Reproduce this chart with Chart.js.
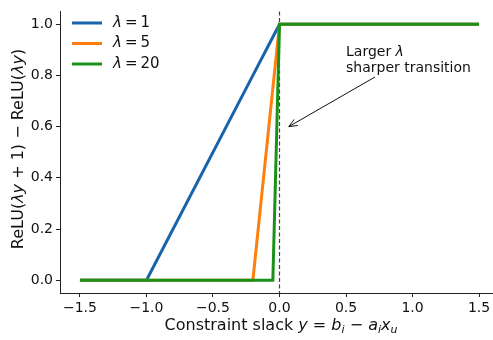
<!DOCTYPE html>
<html>
<head>
<meta charset="utf-8">
<script src="https://cdn.jsdelivr.net/npm/chart.js@4.4.0/dist/chart.umd.min.js"></script>
<style>
    html, body { margin: 0; padding: 0; background: #fff; overflow: hidden; }
    #wrap { width: 510px; height: 340px; }
</style>
</head>
<body>
<div id="wrap"><canvas id="chart" width="510" height="340"></canvas></div>
<script>
// Data
const slack = [-1.5, -1.0, -0.2, -0.05, 0.0, 1.5];
const lambdaOne = [0, 0, 0.8, 0.95, 1, 1];
const lambdaFive = [0, 0, 0, 0.75, 1, 1];
const lambdaTwenty = [0, 0, 0, 0, 1, 1];
const seriesLabels = ['\u03bb = 1', '\u03bb = 5', '\u03bb = 20'];
const xTicks = [-1.5, -1.0, -0.5, 0.0, 0.5, 1.0, 1.5];
const yTicks = [0.0, 0.2, 0.4, 0.6, 0.8, 1.0];

const colors = ['#1764ab', '#ff7f0e', '#1a921a'];
const FONT = '"DejaVu Sans", sans-serif';

const toPoints = (ys) => slack.map((x, i) => ({ x: x, y: ys[i] }));
const fmt = (v) => v.toFixed(1).replace('-', '\u2212');

// Dashed vertical line at y = 0, annotation, legend, axis labels
const extras = {
    id: 'extras',
    beforeDatasetsDraw(chart) {
        const { ctx, chartArea, scales } = chart;
        const x0 = scales.x.getPixelForValue(0);
        ctx.save();
        ctx.strokeStyle = '#444';
        ctx.lineWidth = 1.2;
        ctx.setLineDash([4, 2.5]);
        ctx.beginPath();
        ctx.moveTo(x0, chartArea.top);
        ctx.lineTo(x0, chartArea.bottom);
        ctx.stroke();
        ctx.restore();
    },
    afterDraw(chart) {
        const { ctx, scales } = chart;
        const xs = scales.x, ys = scales.y;
        ctx.save();

        // legend
        ctx.textBaseline = 'middle';
        seriesLabels.forEach((lab, i) => {
            const y = 23 + i * 20.5;
            ctx.strokeStyle = colors[i];
            ctx.lineWidth = 3;
            ctx.beginPath();
            ctx.moveTo(72, y);
            ctx.lineTo(102, y);
            ctx.stroke();
            ctx.fillStyle = '#111';
            ctx.font = 'italic 15px ' + FONT;
            ctx.fillText('\u03bb', 113, y);
            ctx.font = '15px ' + FONT;
            ctx.fillText(lab.slice(1).replace(/ /g, '\u2009'), 122, y);
        });

        // annotation
        ctx.fillStyle = '#111';
        ctx.textBaseline = 'alphabetic';
        ctx.font = '14px ' + FONT;
        ctx.fillText('Larger ', 346, 56);
        const w = ctx.measureText('Larger ').width;
        ctx.font = 'italic 14px ' + FONT;
        ctx.fillText('\u03bb', 346 + w, 56);
        ctx.font = '14px ' + FONT;
        ctx.fillText('sharper transition', 346, 72);

        const ax = 375, ay = 77;
        const bx = xs.getPixelForValue(0.07), by = ys.getPixelForValue(0.6);
        ctx.strokeStyle = '#111';
        ctx.lineWidth = 1;
        ctx.beginPath();
        ctx.moveTo(ax, ay);
        ctx.lineTo(bx, by);
        const ang = Math.atan2(by - ay, bx - ax);
        ctx.moveTo(bx - 9 * Math.cos(ang - 0.4), by - 9 * Math.sin(ang - 0.4));
        ctx.lineTo(bx, by);
        ctx.lineTo(bx - 9 * Math.cos(ang + 0.4), by - 9 * Math.sin(ang + 0.4));
        ctx.stroke();

        // x axis label with italic math
        const parts = [
            ['Constraint slack ', ''], ['y', 'italic '], [' = ', ''], ['b', 'italic '],
            ['i', 'italic ', 1], [' \u2212 ', ''], ['a', 'italic '], ['i', 'italic ', 1],
            ['x', 'italic '], ['u', 'italic ', 1]
        ];
        const size = (p) => (p[2] ? '11px ' : '16px ');
        let total = 0;
        parts.forEach(p => { ctx.font = p[1] + size(p) + FONT; total += ctx.measureText(p[0]).width; });
        let cx = 281 - total / 2;
        parts.forEach(p => {
            ctx.font = p[1] + size(p) + FONT;
            ctx.fillText(p[0], cx, p[2] ? 333 : 330);
            cx += ctx.measureText(p[0]).width;
        });

        // y axis label
        ctx.translate(23, 149);
        ctx.rotate(-Math.PI / 2);
        const yparts = [
            ['ReLU(', ''], ['\u03bby', 'italic '], [' + 1) \u2212 ReLU(', ''], ['\u03bby', 'italic '], [')', '']
        ];
        total = 0;
        yparts.forEach(p => { ctx.font = p[1] + '16px ' + FONT; total += ctx.measureText(p[0]).width; });
        cx = -total / 2;
        yparts.forEach(p => {
            ctx.font = p[1] + '16px ' + FONT;
            ctx.fillText(p[0], cx, 0);
            cx += ctx.measureText(p[0]).width;
        });
        ctx.restore();
    }
};

const ctx = document.getElementById('chart').getContext('2d');
new Chart(ctx, {
    type: 'line',
    data: {
        datasets: [
            { label: seriesLabels[0], data: toPoints(lambdaOne), borderColor: colors[0], order: 3 },
            { label: seriesLabels[1], data: toPoints(lambdaFive), borderColor: colors[1], order: 2 },
            { label: seriesLabels[2], data: toPoints(lambdaTwenty), borderColor: colors[2], order: 1 }
        ].map(d => Object.assign(d, { borderWidth: 3, pointRadius: 0, tension: 0, fill: false }))
    },
    options: {
        responsive: false,
        animation: false,
        events: [],
        layout: { padding: { left: 0, right: 11, top: 5, bottom: 0 } },
        plugins: { legend: { display: false }, tooltip: { enabled: false } },
        scales: {
            x: {
                type: 'linear',
                min: -1.65,
                max: 1.65,
                afterBuildTicks: (axis) => { axis.ticks = xTicks.map(v => ({ value: v })); },
                ticks: { callback: fmt, color: '#111', font: { family: FONT, size: 14 }, padding: 3, maxRotation: 0 },
                grid: { display: true, drawOnChartArea: false, drawTicks: true, tickLength: 4, color: '#222' },
                border: { display: true, color: '#222', width: 1 },
                afterFit: (axis) => { axis.height = 47; }
            },
            y: {
                min: -0.05,
                max: 1.05,
                afterBuildTicks: (axis) => { axis.ticks = yTicks.map(v => ({ value: v })); },
                ticks: { callback: fmt, color: '#111', font: { family: FONT, size: 14 }, padding: 3 },
                grid: { display: true, drawOnChartArea: false, drawTicks: true, tickLength: 4, color: '#222' },
                border: { display: true, color: '#222', width: 1 },
                afterFit: (axis) => { axis.width = 60; }
            }
        }
    },
    plugins: [extras]
});
</script>
</body>
</html>
